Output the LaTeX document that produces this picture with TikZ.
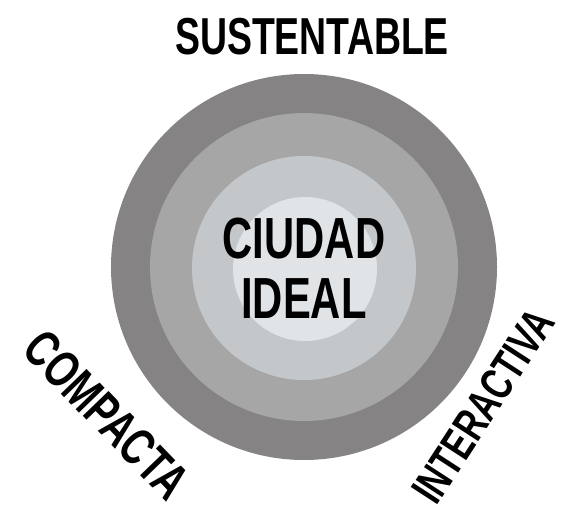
\documentclass[tikz,border=0pt]{standalone}
\usepackage{fontspec}
\setmainfont{Liberation Sans}
\newfontfamily\angosta[FakeStretch=0.72]{Liberation Sans}

\definecolor{anilloA}{RGB}{133,131,131}
\definecolor{anilloB}{RGB}{166,166,166}
\definecolor{anilloC}{RGB}{196,199,202}
\definecolor{anilloD}{RGB}{225,228,231}

\tikzset{
  rotulo/.style={inner sep=0pt, font=\angosta\bfseries\fontsize{52}{52}\selectfont},
  centro/.style={inner sep=0pt, align=center, font=\angosta\bfseries\fontsize{58}{60}\selectfont}
}

\begin{document}
\begin{tikzpicture}[x=1pt,y=-1pt]
   \useasboundingbox (0,0) rectangle (569,511);

   % anillos concentricos
   \fill[anilloA] (304,267) circle [radius=193pt];
   \fill[anilloB] (304,267) circle [radius=154pt];
   \fill[anilloC] (304,268) circle [radius=112pt];
   \fill[anilloD] (305,269) circle [radius=72pt];

   % textos
   \node[centro] (ciudad) at (304,268) {CIUDAD\\IDEAL};
   \node[rotulo] (sustentable) at (312,37) {SUSTENTABLE};
   \node[rotulo, rotate=-46] (compacta) at (107,415) {COMPACTA};
   \node[rotulo, rotate=57, font=\angosta\bfseries\fontsize{46}{46}\selectfont] (interactiva) at (483,406) {INTERACTIVA};

\end{tikzpicture}
\end{document}
